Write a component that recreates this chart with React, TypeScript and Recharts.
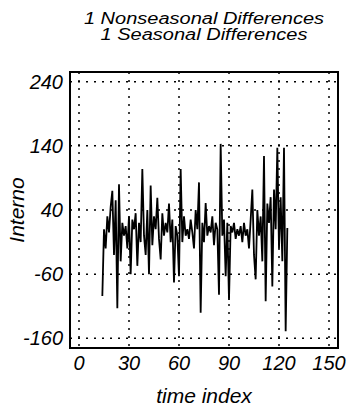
import {
  CartesianGrid,
  Label,
  Line,
  LineChart,
  ReferenceArea,
  XAxis,
  YAxis,
} from 'recharts';

const TITLE_LINES = ['1 Nonseasonal Differences', '1 Seasonal Differences'];
const X_LABEL = 'time index';
const Y_LABEL = 'Interno';
const X_TICKS = [0, 30, 60, 90, 120, 150];
const Y_TICKS = [-160, -60, 40, 140, 240];
const X_DOMAIN = [-5.4, 155.4];
const Y_DOMAIN = [-175, 255];

// first time index that survives the two differences
const START_INDEX = 14;

const INTERNO = [
  -94, 10, -20, 30, 5, 45, 70, -30, 55, -113,
  80, -40, 20, 0, 15, -20, 30, -60, 25, 10,
  35, -47, 20, -10, 104, 0, -30, 40, -60, 78,
  -15, 30, 10, 59, -5, -37, 35, 0, 20, 5,
  50, -10, 25, -73, 15, 0, -63, 104, -10, 30,
  0, 10, -5, 25, 5, -20, 40, 10, 83, -120,
  20, -10, 51, 0, 15, 5, 30, -15, 20, 10,
  -92, 143, 0, 25, -63, 20, -100, 15, 5, 20,
  -5, 10, 0, 15, -10, 20, 0, 10, -20, 25,
  72, -30, -68, 40, 0, 30, -40, 124, -102, 50,
  20, 60, -79, 72, 10, 137, -20, 60, -40, 137,
  -149, 12,
];

const data = INTERNO.map((value, i) => ({ t: START_INDEX + i, value }));

const FONT = '"Liberation Sans", Arial, sans-serif';
const tickStyle = {
  fontFamily: FONT,
  fontStyle: 'italic',
  fontSize: 20,
  fill: '#000',
};
const labelStyle = { ...tickStyle, fontSize: 21 };

const App = () => {
  return (
    <div
      style={{
        position: 'absolute',
        left: 0,
        top: 0,
        width: 350,
        height: 415,
        background: '#fff',
      }}
    >
      <div
        style={{
          position: 'absolute',
          left: 70,
          top: 11,
          width: 268,
          textAlign: 'center',
          fontFamily: FONT,
          fontStyle: 'italic',
          fontSize: 16,
          lineHeight: '16px',
          color: '#000',
          transform: 'scaleX(1.25)',
          transformOrigin: '50% 0',
          whiteSpace: 'nowrap',
        }}
      >
        {TITLE_LINES.map((line) => (
          <div key={line}>{line}</div>
        ))}
      </div>
      <LineChart
        width={350}
        height={415}
        data={data}
        margin={{ top: 72, right: 12, bottom: 0, left: 0 }}
      >
        <CartesianGrid
          stroke="#000"
          strokeDasharray="2 6"
          strokeWidth={1.5}
        />
        <XAxis
          dataKey="t"
          type="number"
          domain={X_DOMAIN}
          ticks={X_TICKS}
          interval={0}
          allowDataOverflow
          height={67}
          axisLine={false}
          tickLine={false}
          tickSize={0}
          tickMargin={8}
          tick={tickStyle}
        >
          <Label
            value={X_LABEL}
            position="insideBottom"
            offset={12}
            style={labelStyle}
          />
        </XAxis>
        <YAxis
          type="number"
          domain={Y_DOMAIN}
          ticks={Y_TICKS}
          interval={0}
          allowDataOverflow
          width={70}
          axisLine={false}
          tickLine={false}
          tickSize={0}
          tickMargin={7}
          tick={tickStyle}
        >
          <Label
            value={Y_LABEL}
            angle={-90}
            position="insideLeft"
            offset={17}
            textAnchor="middle"
            style={labelStyle}
          />
        </YAxis>
        <ReferenceArea
          x1={X_DOMAIN[0]}
          x2={X_DOMAIN[1]}
          y1={Y_DOMAIN[0]}
          y2={Y_DOMAIN[1]}
          fill="none"
          stroke="#000"
          strokeWidth={2}
          ifOverflow="visible"
        />
        <Line
          type="linear"
          dataKey="value"
          stroke="#000"
          strokeWidth={1.8}
          dot={false}
          isAnimationActive={false}
        />
      </LineChart>
    </div>
  );
};

export default App;
